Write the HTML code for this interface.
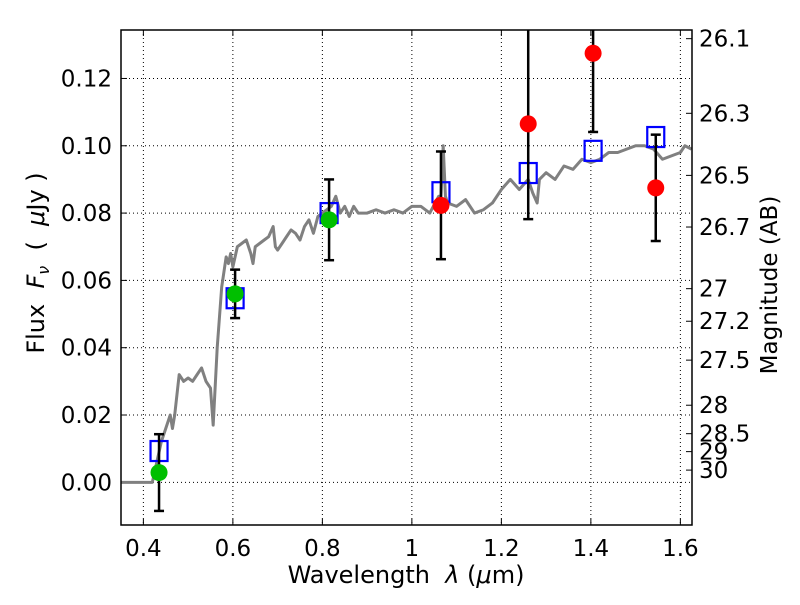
<!DOCTYPE html>
<html><head><meta charset="utf-8"><style>
body{margin:0;background:#fff}
svg text{font-family:"DejaVu Sans","Liberation Sans",sans-serif;font-size:23px;fill:#000}
</style></head><body>
<svg id="chart" width="800" height="600"></svg>
<script>
const xTicks=[0.4,0.6,0.8,1.0,1.2,1.4,1.6];
const xTickLabels=["0.4","0.6","0.8","1","1.2","1.4","1.6"];
const yTicks=[0,0.02,0.04,0.06,0.08,0.10,0.12];
const yTickLabels=["0.00","0.02","0.04","0.06","0.08","0.10","0.12"];
const magTicks=[26.1,26.3,26.5,26.7,27,27.2,27.5,28,28.5,29,30];
const magLabels=["26.1","26.3","26.5","26.7","27","27.2","27.5","28","28.5","29","30"];
const specWave=[0.35,0.42,0.43,0.44,0.45,0.46,0.465,0.47,0.48,0.49,0.5,0.51,0.52,0.53,0.54,0.55,0.556,0.565,0.575,0.585,0.59,0.595,0.6,0.61,0.62,0.63,0.64,0.645,0.65,0.66,0.67,0.68,0.69,0.695,0.7,0.71,0.72,0.73,0.74,0.75,0.76,0.77,0.78,0.79,0.8,0.82,0.83,0.84,0.85,0.86,0.87,0.88,0.9,0.92,0.94,0.96,0.98,1.0,1.02,1.04,1.06,1.065,1.07,1.075,1.08,1.1,1.12,1.14,1.16,1.18,1.2,1.22,1.24,1.26,1.27,1.28,1.285,1.3,1.32,1.34,1.36,1.38,1.4,1.42,1.44,1.46,1.48,1.5,1.52,1.54,1.56,1.58,1.6,1.61,1.625];
const specFlux=[0,0,0.006,0.012,0.016,0.02,0.016,0.02,0.032,0.03,0.031,0.03,0.032,0.034,0.03,0.028,0.017,0.04,0.058,0.067,0.065,0.068,0.064,0.07,0.071,0.072,0.068,0.065,0.07,0.071,0.072,0.073,0.076,0.07,0.069,0.071,0.073,0.075,0.074,0.072,0.076,0.078,0.074,0.079,0.08,0.082,0.085,0.08,0.082,0.079,0.082,0.08,0.08,0.081,0.08,0.081,0.08,0.082,0.082,0.08,0.085,0.085,0.1,0.085,0.083,0.082,0.084,0.08,0.081,0.083,0.087,0.09,0.087,0.09,0.086,0.083,0.09,0.092,0.09,0.094,0.093,0.096,0.095,0.096,0.098,0.098,0.099,0.1,0.1,0.099,0.096,0.097,0.098,0.1,0.099];
const modelWave=[0.435,0.605,0.815,1.065,1.26,1.405,1.545];
const modelFlux=[0.0093,0.0547,0.080,0.0862,0.0919,0.0985,0.1026];
const greenWave=[0.435,0.605,0.815];
const greenFlux=[0.0029,0.056,0.078];
const greenErr=[0.0114,0.0072,0.012];
const redWave=[1.065,1.26,1.405,1.545];
const redFlux=[0.0823,0.1065,0.1275,0.0875];
const redErr=[0.016,0.0283,0.0234,0.0158];

const L=121,R=692,T=30,B=525,x0=0.35,x1=1.626,y0=-0.01268,y1=0.1344;
const X=v=>L+(v-x0)/(x1-x0)*(R-L);
const Y=v=>B-(v-y0)/(y1-y0)*(B-T);
const NS="http://www.w3.org/2000/svg";
const svg=document.getElementById('chart');
function mk(tag,attrs,parent){const e=document.createElementNS(NS,tag);for(const k in attrs)e.setAttribute(k,attrs[k]);(parent||svg).appendChild(e);return e;}
const clip=mk('clipPath',{id:'pc'});mk('rect',{x:L,y:T,width:R-L,height:B-T},clip);
xTicks.forEach((t,i)=>{
 const g=mk('line',{x1:X(t),x2:X(t),y1:T,y2:B,stroke:'#000','stroke-width':1,'stroke-dasharray':'1,3'});
 
 
 mk('line',{x1:X(t),x2:X(t),y1:B,y2:B-6,stroke:'#000'});mk('line',{x1:X(t),x2:X(t),y1:T,y2:T+6,stroke:'#000'});
 const tx=mk('text',{x:X(t),y:B+31,'text-anchor':'middle'});tx.textContent=xTickLabels[i];
 
 
});
yTicks.forEach((t,i)=>{
 const g=mk('line',{x1:L,x2:R,y1:Y(t),y2:Y(t),stroke:'#000','stroke-width':1,'stroke-dasharray':'1,3'});
 
 
 mk('line',{x1:L,x2:L+6,y1:Y(t),y2:Y(t),stroke:'#000'});
 const tx=mk('text',{x:L-9,y:Y(t)+8,'text-anchor':'end'});tx.textContent=yTickLabels[i];
 
 
});
magTicks.forEach((m,i)=>{
 const f=Math.pow(10,(23.9-m)/2.5);
 mk('line',{x1:R,x2:R-6,y1:Y(f),y2:Y(f),stroke:'#000'});
 const tx=mk('text',{x:R+7,y:Y(f)+8,'text-anchor':'start'});tx.textContent=magLabels[i];
 
 
});
const g=mk('g',{'clip-path':'url(#pc)'});
const sp=mk('polyline',{points:specWave.map((w,i)=>X(w)+','+Y(specFlux[i])).join(' '),fill:'none',stroke:'#808080','stroke-width':3,'stroke-linejoin':'round'},g);


function errs(ws,fs,es){ws.forEach((w,i)=>{
 const e=mk('g',{},g);
 
 
 mk('line',{x1:X(w),x2:X(w),y1:Y(fs[i]+es[i]),y2:Y(fs[i]-es[i]),stroke:'#000','stroke-width':2.5},e);
 [fs[i]+es[i],fs[i]-es[i]].forEach(v=>mk('line',{x1:X(w)-5,x2:X(w)+5,y1:Y(v),y2:Y(v),stroke:'#000','stroke-width':2.5},e));
});}
modelWave.forEach((w,i)=>{
 const r=mk('rect',{x:X(w)-8.5,y:Y(modelFlux[i])-10,width:17,height:20,fill:'none',stroke:'#0000ff','stroke-width':2.2},g);
 
 
});
errs(greenWave,greenFlux,greenErr);errs(redWave,redFlux,redErr);
greenWave.forEach((w,i)=>{
 const c=mk('circle',{cx:X(w),cy:Y(greenFlux[i]),r:8.5,fill:'#00bf00'},g);
 
 
});
redWave.forEach((w,i)=>{
 const c=mk('circle',{cx:X(w),cy:Y(redFlux[i]),r:8.5,fill:'#ff0000'},g);
 
 
});
const fr=mk('rect',{x:L,y:T,width:R-L,height:B-T,fill:'none',stroke:'#000','stroke-width':1.5});


</script>
<svg width="800" height="600" style="position:absolute;left:0;top:0">
<text x="406" y="583" text-anchor="middle" xml:space="preserve" style="font-family:'DejaVu Sans',sans-serif;font-size:24px">Wavelength  <tspan font-style="italic">λ</tspan> (<tspan font-style="italic">μ</tspan>m)</text>
<text transform="translate(44,263) rotate(-90)" text-anchor="middle" xml:space="preserve" style="font-family:'DejaVu Sans',sans-serif;font-size:24px">Flux  <tspan font-style="italic">F</tspan><tspan font-style="italic" font-size="16" dy="5">ν</tspan><tspan dy="-5">  (  </tspan><tspan font-style="italic">μ</tspan>Jy )</text>
<text transform="translate(777,285) rotate(-90)" text-anchor="middle" style="font-family:'DejaVu Sans',sans-serif;font-size:23px">Magnitude (AB)</text>
</svg>
</body></html>
